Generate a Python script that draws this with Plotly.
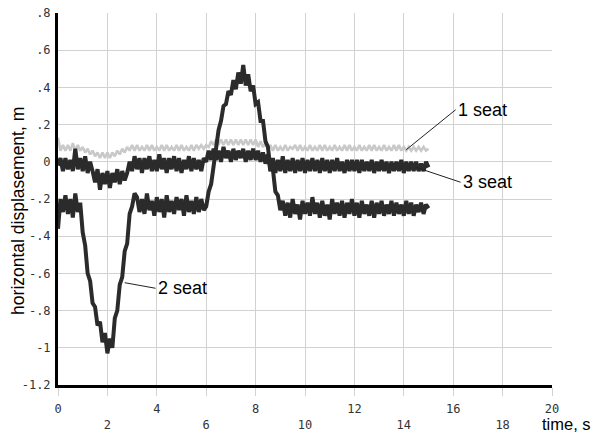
import plotly.graph_objects as go

# ---------------- data ----------------
seat1 = [0.13, 0.06, 0.09, 0.06, 0.09, 0.06, 0.10, 0.06, 0.09, 0.06,
         0.08, 0.05, 0.07, 0.04, 0.06, 0.03, 0.05, 0.02, 0.05, 0.02,
         0.05, 0.02, 0.05, 0.03, 0.06, 0.04, 0.07, 0.05, 0.08, 0.06,
         0.09, 0.06, 0.09, 0.06, 0.08, 0.06, 0.09, 0.06, 0.09, 0.06,
         0.08, 0.06, 0.09, 0.06, 0.09, 0.06, 0.08, 0.06, 0.09, 0.06,
         0.09, 0.06, 0.08, 0.06, 0.09, 0.06, 0.09, 0.07, 0.09, 0.07,
         0.09, 0.08, 0.11, 0.09, 0.12, 0.09, 0.12, 0.09, 0.12, 0.09,
         0.12, 0.09, 0.12, 0.09, 0.12, 0.09, 0.12, 0.09, 0.12, 0.09,
         0.12, 0.08, 0.11, 0.08, 0.10, 0.07, 0.09, 0.06, 0.09, 0.06,
         0.08, 0.06, 0.09, 0.06, 0.08, 0.07, 0.09, 0.06, 0.09, 0.06,
         0.08, 0.06, 0.09, 0.06, 0.08, 0.06, 0.09, 0.06, 0.09, 0.06,
         0.08, 0.06, 0.09, 0.06, 0.08, 0.06, 0.09, 0.06, 0.09, 0.06,
         0.08, 0.06, 0.09, 0.06, 0.08, 0.06, 0.09, 0.06, 0.09, 0.06,
         0.08, 0.06, 0.09, 0.06, 0.08, 0.06, 0.09, 0.06, 0.09, 0.06,
         0.08, 0.06, 0.08, 0.06, 0.08, 0.06, 0.08, 0.06, 0.08, 0.06,
         0.07]

seat2 = [-0.36, -0.20, -0.27, -0.18, -0.28, -0.20, -0.30, -0.17, -0.27, -0.22,
         -0.38, -0.45, -0.60, -0.64, -0.76, -0.78, -0.88, -0.86, -0.97, -0.92,
         -1.03, -0.95, -1.00, -0.84, -0.80, -0.66, -0.62, -0.48, -0.44, -0.28,
         -0.24, -0.17, -0.19, -0.27, -0.20, -0.28, -0.17, -0.26, -0.21, -0.29,
         -0.19, -0.27, -0.20, -0.30, -0.18, -0.27, -0.21, -0.28, -0.19, -0.26,
         -0.20, -0.29, -0.18, -0.27, -0.21, -0.28, -0.19, -0.27, -0.20, -0.26,
         -0.24, -0.16, -0.12, -0.02, 0.08, 0.17, 0.22, 0.30, 0.31, 0.38,
         0.36, 0.44, 0.39, 0.48, 0.42, 0.52, 0.41, 0.47, 0.38, 0.41,
         0.31, 0.32, 0.22, 0.22, 0.11, 0.08, -0.04, -0.04, -0.16, -0.18,
         -0.26, -0.21, -0.29, -0.22, -0.30, -0.20, -0.28, -0.23, -0.31, -0.21,
         -0.28, -0.22, -0.29, -0.19, -0.28, -0.22, -0.30, -0.21, -0.29, -0.23,
         -0.31, -0.20, -0.28, -0.22, -0.29, -0.21, -0.30, -0.22, -0.28, -0.20,
         -0.29, -0.22, -0.30, -0.21, -0.28, -0.23, -0.29, -0.21, -0.30, -0.22,
         -0.28, -0.21, -0.29, -0.23, -0.28, -0.21, -0.29, -0.22, -0.28, -0.23,
         -0.29, -0.21, -0.28, -0.22, -0.29, -0.23, -0.27, -0.22, -0.28, -0.23,
         -0.25]

seat3 = [-0.02, 0.02, -0.05, 0.02, -0.04, 0.01, -0.05, 0.07, -0.04, 0.02,
         -0.05, 0.03, -0.06, 0.00, -0.05, -0.11, -0.04, -0.15, -0.06, -0.12,
         -0.05, -0.14, -0.06, -0.11, -0.04, -0.12, -0.05, -0.10, -0.06, 0.00,
         -0.05, 0.03, -0.04, 0.02, -0.06, 0.02, -0.04, 0.03, -0.05, 0.01,
         -0.05, 0.04, -0.04, 0.02, -0.06, 0.02, -0.04, 0.03, -0.05, 0.02,
         -0.06, 0.01, -0.04, 0.03, -0.05, 0.02, -0.04, 0.01, -0.05, 0.02,
         0.00, 0.06, 0.01, 0.07, 0.01, 0.06, 0.00, 0.08, 0.02, 0.06,
         0.00, 0.07, 0.01, 0.06, 0.02, 0.07, 0.00, 0.06, 0.01, 0.07,
         0.01, 0.06, 0.00, 0.05, -0.01, 0.04, -0.05, 0.02, -0.06, 0.01,
         -0.05, 0.03, -0.06, 0.01, -0.05, 0.02, -0.06, 0.01, -0.05, 0.02,
         -0.06, 0.01, -0.05, 0.02, -0.05, 0.01, -0.06, 0.02, -0.05, 0.01,
         -0.06, 0.01, -0.05, 0.02, -0.05, 0.00, -0.06, 0.01, -0.05, 0.01,
         -0.05, 0.01, -0.06, 0.01, -0.05, 0.00, -0.05, 0.01, -0.06, 0.00,
         -0.05, 0.01, -0.05, 0.00, -0.06, 0.00, -0.05, 0.00, -0.05, 0.01,
         -0.06, 0.00, -0.05, 0.00, -0.05, 0.00, -0.05, -0.01, -0.05, 0.00,
         -0.03]

time_s = [round(i * 0.1, 1) for i in range(len(seat1))]

x_ticks = [0, 2, 4, 6, 8, 10, 12, 14, 16, 18, 20]
x_ticktext = ["0", "<br>2", "4", "<br>6", "8", "<br>10", "12", "<br>14", "16", "<br>18", "20"]
y_ticks = [0.8, 0.6, 0.4, 0.2, 0, -0.2, -0.4, -0.6, -0.8, -1.0, -1.2]
y_ticktext = [".8", ".6", ".4", ".2", "0", "-.2", "-.4", "-.6", "-.8", "-1", "-1.2"]

# ---------------- figure ----------------
DARK = "#2b2b2b"
LIGHT = "#c9c9c9"
GRID = "#d2d2d2"

fig = go.Figure()
fig.add_trace(go.Scatter(x=time_s, y=seat1, mode="lines", name="1 seat",
                         line=dict(color=LIGHT, width=2.6)))
fig.add_trace(go.Scatter(x=time_s, y=seat3, mode="lines", name="3 seat",
                         line=dict(color=DARK, width=4)))
fig.add_trace(go.Scatter(x=time_s, y=seat2, mode="lines", name="2 seat",
                         line=dict(color=DARK, width=4)))

tickfont = dict(family="DejaVu Sans Mono", size=12, color="#333333")
labfont = dict(family="Liberation Sans, Arial", size=17.5, color="black")
timefont = dict(family="Liberation Sans, Arial", size=16.5, color="black")
seatfont = dict(family="Liberation Sans, Arial", size=18, color="black")

fig.update_layout(
    width=594, height=439,
    margin=dict(l=58, r=42, t=13, b=54),
    paper_bgcolor="white", plot_bgcolor="white",
    showlegend=False,
    xaxis=dict(range=[0, 20], tickmode="array", tickvals=x_ticks, ticktext=x_ticktext,
               showgrid=True, gridcolor=GRID, gridwidth=1, zeroline=False,
               showline=True, linecolor="black", linewidth=3,
               ticks="outside", ticklen=8, tickcolor=GRID, tickwidth=1,
               tickfont=tickfont, automargin=False, ticklabelstandoff=3),
    yaxis=dict(range=[-1.2, 0.8], tickmode="array", tickvals=y_ticks, ticktext=y_ticktext,
               showgrid=True, gridcolor=GRID, gridwidth=1, zeroline=False,
               showline=True, linecolor="black", linewidth=3,
               ticks="", tickfont=tickfont, automargin=False, ticklabelstandoff=2),
)

fig.add_annotation(text="horizontal displasement, m", xref="paper", yref="paper",
                   x=-0.081, y=0.468, textangle=-90, showarrow=False,
                   xanchor="center", yanchor="middle", font=labfont)
fig.add_annotation(text="time, s", xref="paper", yref="paper",
                   x=1.083, y=-0.106, showarrow=False,
                   xanchor="right", yanchor="middle", font=timefont)

for txt, px, py, tx, ty in [("1 seat", 14.1, 0.065, 16.1, 0.28),
                            ("3 seat", 14.5, -0.03, 16.3, -0.11),
                            ("2 seat", 2.7, -0.65, 3.95, -0.68)]:
    fig.add_annotation(text=txt, x=px, y=py, ax=tx, ay=ty, axref="x", ayref="y",
                       xref="x", yref="y", showarrow=True, arrowhead=0,
                       arrowwidth=1, arrowcolor="#222222", standoff=0,
                       xanchor="left", yanchor="middle", font=seatfont)

fig.write_html("out.html", config={"displayModeBar": False},
               post_script="document.body.style.margin='0';")
